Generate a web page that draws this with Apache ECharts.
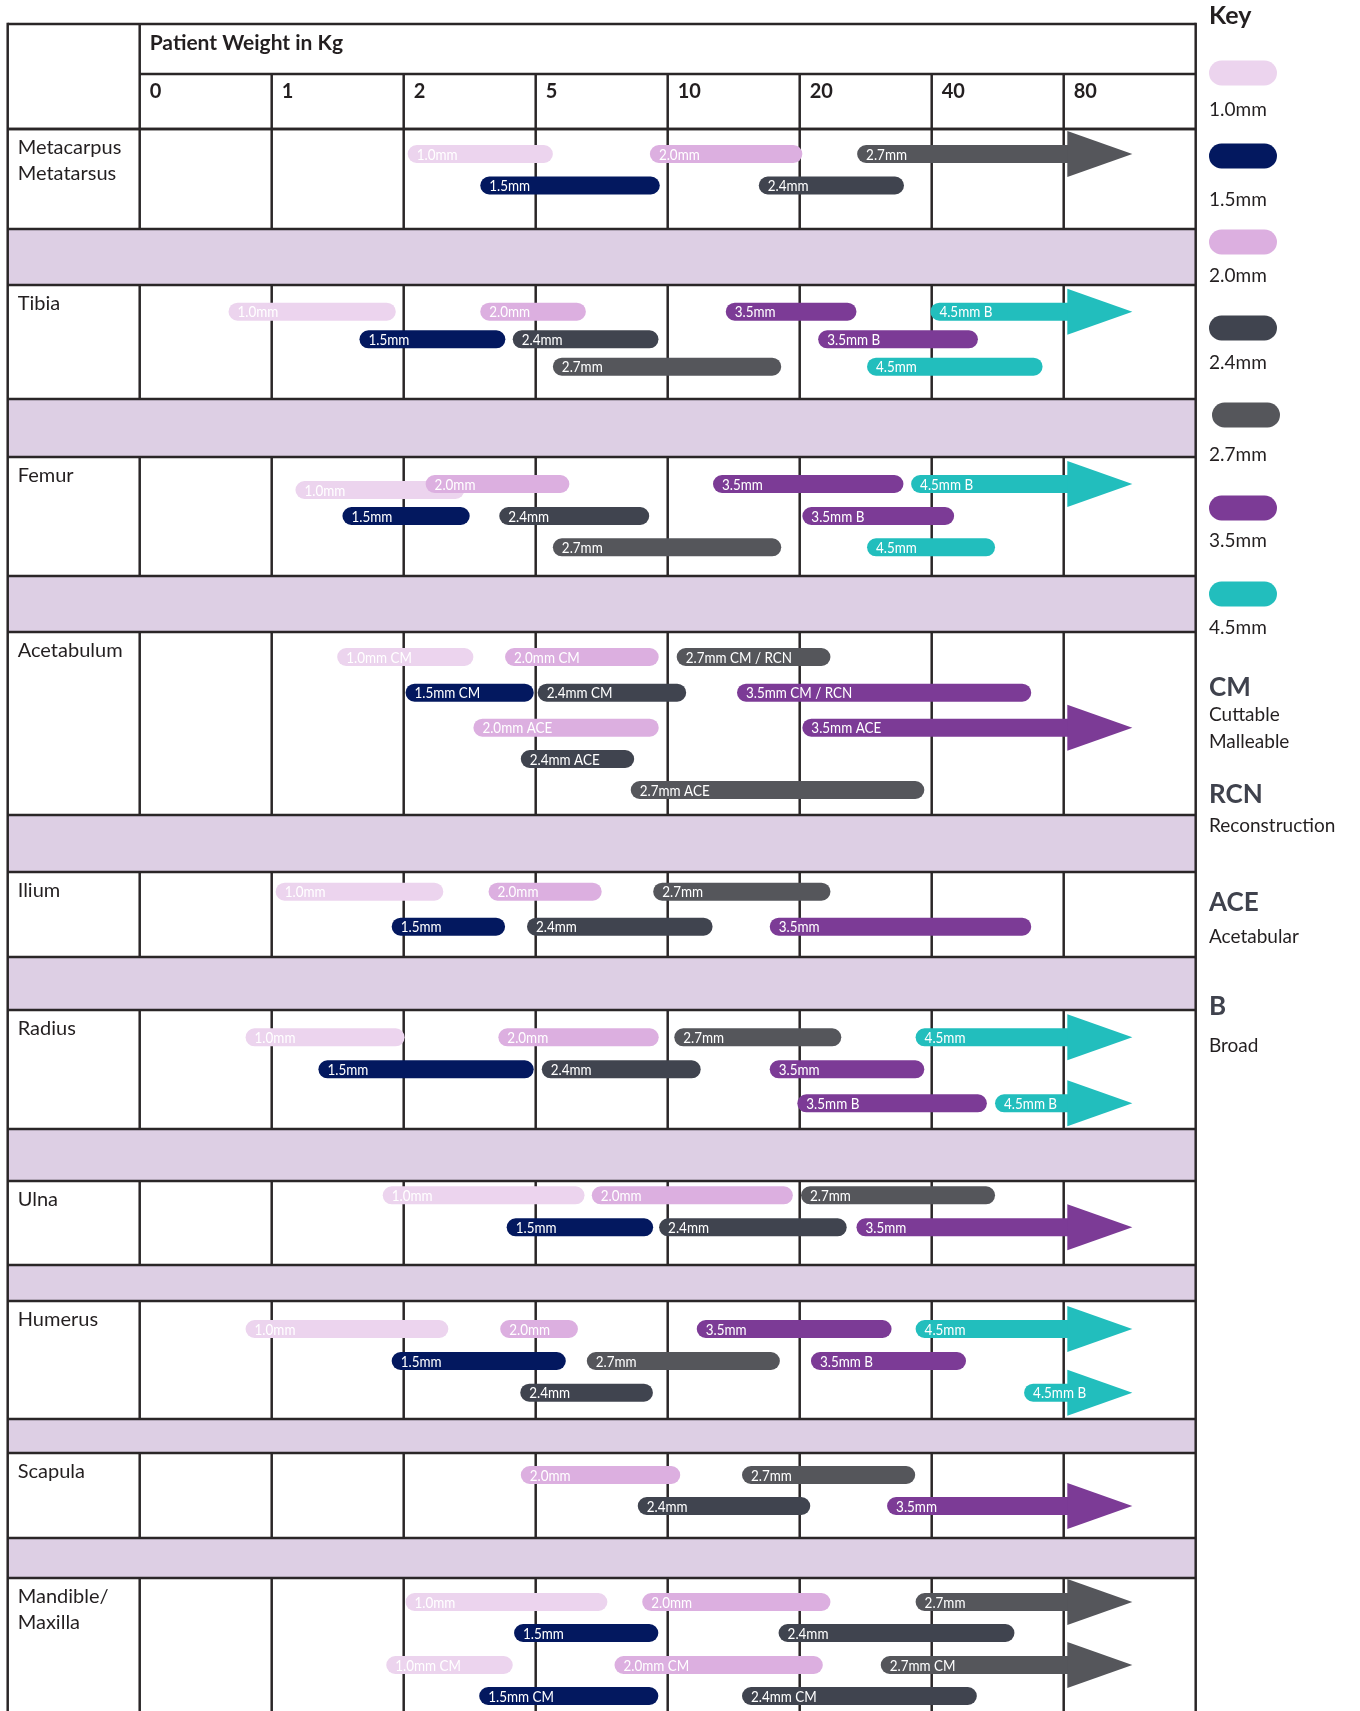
<!DOCTYPE html>
<html>
<head>
<meta charset="utf-8">
<script src="https://cdn.jsdelivr.net/npm/echarts/dist/echarts.min.js"></script>
<style>html,body{margin:0;padding:0;background:#fff}#c{width:1360px;height:1711px}</style>
</head>
<body>
<div id="c"></div>
<script>
// ---------------- DATA ----------------
const weightTicks = ['0', '1', '2', '5', '10', '20', '40', '80'];
const boneRows = ['Metacarpus\nMetatarsus', 'Tibia', 'Femur', 'Acetabulum', 'Ilium', 'Radius', 'Ulna', 'Humerus', 'Scapula', 'Mandible/\nMaxilla'];
const plateSizes = ['1.0mm', '1.5mm', '2.0mm', '2.4mm', '2.7mm', '3.5mm', '4.5mm'];
const abbreviations = [['CM', 'Cuttable\nMalleable'], ['RCN', 'Reconstruction'], ['ACE', 'Acetabular'], ['B', 'Broad']];
// each bar: [plate size, suffix, start (tick index), end (tick index, null = open-ended arrow), lane]
const metacarpus = [
  ['1.0mm', '', 2.03, 3.13, 0], ['1.5mm', '', 2.58, 3.94, 1], ['2.0mm', '', 3.865, 5.02, 0],
  ['2.4mm', '', 4.69, 5.79, 1], ['2.7mm', '', 5.435, null, 0]];
const tibia = [
  ['1.0mm', '', 0.673, 1.94, 0], ['2.0mm', '', 2.58, 3.38, 0], ['1.5mm', '', 1.665, 2.77, 1],
  ['2.4mm', '', 2.826, 3.93, 1], ['2.7mm', '', 3.13, 4.86, 2], ['3.5mm', '', 4.44, 5.43, 0],
  ['4.5mm', ' B', 5.99, null, 0], ['3.5mm', ' B', 5.14, 6.35, 1], ['4.5mm', '', 5.51, 6.84, 2]];
const femur = [
  ['1.0mm', '', 1.18, 2.46, 3], ['2.0mm', '', 2.166, 3.255, 0], ['1.5mm', '', 1.536, 2.50, 1],
  ['2.4mm', '', 2.724, 3.86, 1], ['2.7mm', '', 3.13, 4.86, 2], ['3.5mm', '', 4.343, 5.786, 0],
  ['4.5mm', ' B', 5.844, null, 0], ['3.5mm', ' B', 5.02, 6.17, 1], ['4.5mm', '', 5.51, 6.48, 2]];
const acetabulum = [
  ['1.0mm', ' CM', 1.496, 2.528, 0], ['2.0mm', ' CM', 2.768, 3.932, 0], ['2.7mm', ' CM / RCN', 4.068, 5.233, 0],
  ['1.5mm', ' CM', 2.014, 2.985, 1], ['2.4mm', ' CM', 3.015, 4.14, 1], ['3.5mm', ' CM / RCN', 4.525, 6.754, 1],
  ['2.0mm', ' ACE', 2.528, 3.932, 2], ['3.5mm', ' ACE', 5.02, null, 2], ['2.4mm', ' ACE', 2.887, 3.746, 3],
  ['2.7mm', ' ACE', 3.72, 5.944, 4]];
const ilium = [
  ['1.0mm', '', 1.03, 2.30, 0], ['2.0mm', '', 2.643, 3.50, 0], ['2.7mm', '', 3.89, 5.233, 0],
  ['1.5mm', '', 1.909, 2.768, 1], ['2.4mm', '', 2.934, 4.34, 1], ['3.5mm', '', 4.773, 6.754, 1]];
const radius = [
  ['1.0mm', '', 0.802, 2.007, 0], ['2.0mm', '', 2.717, 3.932, 0], ['2.7mm', '', 4.05, 5.315, 0],
  ['4.5mm', '', 5.878, null, 0], ['1.5mm', '', 1.354, 2.985, 1], ['2.4mm', '', 3.046, 4.25, 1],
  ['3.5mm', '', 4.773, 5.944, 1], ['3.5mm', ' B', 4.982, 6.418, 2], ['4.5mm', ' B', 6.48, null, 2]];
const ulna = [
  ['1.0mm', '', 1.841, 3.37, 0], ['2.0mm', '', 3.425, 4.948, 0], ['2.7mm', '', 5.01, 6.48, 0],
  ['1.5mm', '', 2.78, 3.89, 1], ['2.4mm', '', 3.935, 5.356, 1], ['3.5mm', '', 5.43, null, 1]];
const humerus = [
  ['1.0mm', '', 0.802, 2.338, 0], ['2.0mm', '', 2.731, 3.32, 0], ['3.5mm', '', 4.22, 5.696, 0],
  ['4.5mm', '', 5.878, null, 0], ['1.5mm', '', 1.909, 3.228, 1], ['2.7mm', '', 3.387, 4.85, 1],
  ['3.5mm', ' B', 5.085, 6.26, 1], ['2.4mm', '', 2.883, 3.888, 2], ['4.5mm', ' B', 6.70, null, 2]];
const scapula = [
  ['2.0mm', '', 2.887, 4.095, 0], ['2.7mm', '', 4.563, 5.875, 0], ['2.4mm', '', 3.773, 5.08, 1],
  ['3.5mm', '', 5.662, null, 1]];
const mandible = [
  ['1.0mm', '', 2.014, 3.543, 0], ['2.0mm', '', 3.807, 5.233, 0], ['2.7mm', '', 5.878, null, 0],
  ['1.5mm', '', 2.836, 3.929, 1], ['2.4mm', '', 4.84, 6.627, 1], ['1.0mm', ' CM', 1.868, 2.826, 2],
  ['2.0mm', ' CM', 3.597, 5.175, 2], ['2.7mm', ' CM', 5.614, null, 2], ['1.5mm', ' CM', 2.572, 3.929, 3],
  ['2.4mm', ' CM', 4.563, 6.342, 3]];
const rowBars = [metacarpus, tibia, femur, acetabulum, ilium, radius, ulna, humerus, scapula, mandible];

// ---------------- LAYOUT / STYLE ----------------
const sizeColors = ['#ecd4ee', '#03185f', '#dcafe0', '#40444f', '#55565b', '#7c3b96', '#22bebd'];
const BAND = '#ddcfe4', LINE = '#2a2627', TEXT = '#231f20', ABBR = '#3f424d';
const FONT = 'Lato, "Open Sans", sans-serif';
const ARROW_TIP = 7.52, HEAD_LEN = 65, HEAD_HALF = 23, BAR_H = 18;
const TABLE_TOP = 24, HEADER_DIV = 74, TICK_BOTTOM = 129, PAGE_H = 1711;
const rowBounds = [[129, 229], [285, 399], [457, 576], [632, 815], [872, 957], [1010, 1129], [1181, 1265], [1301, 1419], [1453, 1538], [1578, 1790]];
const laneOffsets = [[25, 56.5], [26.7, 54.3, 81.7], [27, 59, 90.3, 33], [25, 60.7, 95.7, 127, 158], [19.7, 54.7],
  [27.3, 59.3, 93.3], [14.3, 46.3], [28, 60, 91.7], [22, 53], [24, 55, 87, 118]];
const legendSwatchY = [73, 156, 242, 328, 415, 508, 594];
const legendLabelY = [111, 201, 277, 364, 456, 542, 629];
const abbrHeadY = [687, 794, 902, 1006];
const abbrDescY = [715, 826, 937, 1046];

const barItems = [];
rowBars.forEach((bars, r) => bars.forEach(b => {
  const [size, suffix, start, end, lane] = b;
  barItems.push({
    value: [start, end === null ? ARROW_TIP : end, rowBounds[r][0] + laneOffsets[r][lane]],
    color: sizeColors[plateSizes.indexOf(size)], label: size + suffix, arrow: end === null
  });
}));

function renderFrame(params, api) {
  const c = (x, y) => api.coord([x, y]);
  const L = -1, R = 8, BOT = PAGE_H + 60, ch = [];
  const line = (x1, y1, x2, y2) => {
    const a = c(x1, y1), b = c(x2, y2);
    ch.push({ type: 'line', shape: { x1: a[0], y1: a[1], x2: b[0], y2: b[1] }, style: { stroke: LINE, lineWidth: 2.5 } });
  };
  line(0, TABLE_TOP, 0, BOT);
  for (let i = 1; i < 8; i++) line(i, HEADER_DIV, i, BOT);
  for (let r = 0; r < rowBounds.length - 1; r++) {
    const a = c(L, rowBounds[r][1]), b = c(R, rowBounds[r + 1][0]);
    ch.push({ type: 'rect', shape: { x: a[0], y: a[1], width: b[0] - a[0], height: b[1] - a[1] }, style: { fill: BAND } });
  }
  line(L, TABLE_TOP - 1.2, L, BOT); line(R, TABLE_TOP - 1.2, R, BOT);
  line(L, TABLE_TOP, R, TABLE_TOP); line(0, HEADER_DIV, R, HEADER_DIV); line(L, TICK_BOTTOM, R, TICK_BOTTOM);
  rowBounds.forEach(([t, b]) => { line(L, t, R, t); line(L, b, R, b); });
  const h = c(0, 43);
  ch.push({ type: 'text', x: h[0] + 10, y: h[1], style: { text: 'Patient Weight in Kg', fill: TEXT, font: 'bold 21px ' + FONT, align: 'left', verticalAlign: 'middle' } });
  weightTicks.forEach((t, i) => {
    const p = c(i, 92);
    ch.push({ type: 'text', x: p[0] + 10, y: p[1], style: { text: t, fill: TEXT, font: 'bold 20px ' + FONT, align: 'left', verticalAlign: 'middle' } });
  });
  boneRows.forEach((name, r) => {
    const p = c(L, rowBounds[r][0] + 5);
    ch.push({ type: 'text', x: p[0] + 10, y: p[1], style: { text: name, fill: TEXT, font: '20px ' + FONT, lineHeight: 26.5, align: 'left', verticalAlign: 'top' } });
  });
  return { type: 'group', children: ch };
}

function renderBar(params, api) {
  const it = barItems[params.dataIndex];
  const y = api.value(2);
  const p0 = api.coord([api.value(0), y]), p1 = api.coord([api.value(1), y]);
  const ch = [];
  if (it.arrow) {
    const base = p1[0] - HEAD_LEN;
    ch.push({ type: 'rect', shape: { x: p0[0], y: p0[1] - BAR_H / 2, width: base - p0[0] + 1, height: BAR_H, r: [BAR_H / 2, 0, 0, BAR_H / 2] }, style: { fill: it.color } });
    ch.push({ type: 'polygon', shape: { points: [[base, p1[1] - HEAD_HALF], [p1[0], p1[1]], [base, p1[1] + HEAD_HALF]] }, style: { fill: it.color } });
  } else {
    ch.push({ type: 'rect', shape: { x: p0[0], y: p0[1] - BAR_H / 2, width: p1[0] - p0[0], height: BAR_H, r: BAR_H / 2 }, style: { fill: it.color } });
  }
  ch.push({ type: 'text', x: p0[0] + 9, y: p0[1] + 0.5, scaleX: 0.84, style: { text: it.label, fill: '#ffffff', font: '16px ' + FONT, align: 'left', verticalAlign: 'middle' } });
  return { type: 'group', children: ch };
}

const graphics = [{ type: 'text', left: 1209, top: 3, style: { text: 'Key', fill: TEXT, font: 'bold 25px ' + FONT } }];
plateSizes.forEach((s, i) => {
  graphics.push({ type: 'rect', left: i === 4 ? 1212 : 1209, top: legendSwatchY[i] - 12.5, shape: { width: 68, height: 25, r: 12.5 }, style: { fill: sizeColors[i] } });
  graphics.push({ type: 'text', left: 1209, top: legendLabelY[i] - 11, style: { text: s, fill: TEXT, font: '19px ' + FONT } });
});
abbreviations.forEach((a, i) => {
  graphics.push({ type: 'text', left: 1209, top: abbrHeadY[i] - 12, style: { text: a[0], fill: ABBR, font: 'bold 26px ' + FONT } });
  graphics.push({ type: 'text', left: 1209, top: abbrDescY[i] - 13.5, style: { text: a[1], fill: TEXT, font: '19px ' + FONT, lineHeight: 27 } });
});

const chart = echarts.init(document.getElementById('c'));
chart.setOption({
  animation: false,
  grid: { left: 139.7, right: 164.3, top: 0, bottom: 0 },
  xAxis: { type: 'value', min: 0, max: 8, show: false },
  yAxis: { type: 'value', min: 0, max: PAGE_H, inverse: true, show: false },
  graphic: graphics,
  series: [
    { type: 'custom', clip: false, renderItem: renderFrame, data: [[0, 0]], silent: true },
    { type: 'custom', clip: false, renderItem: renderBar, data: barItems.map(b => b.value), silent: true }
  ]
});
</script>
</body>
</html>
